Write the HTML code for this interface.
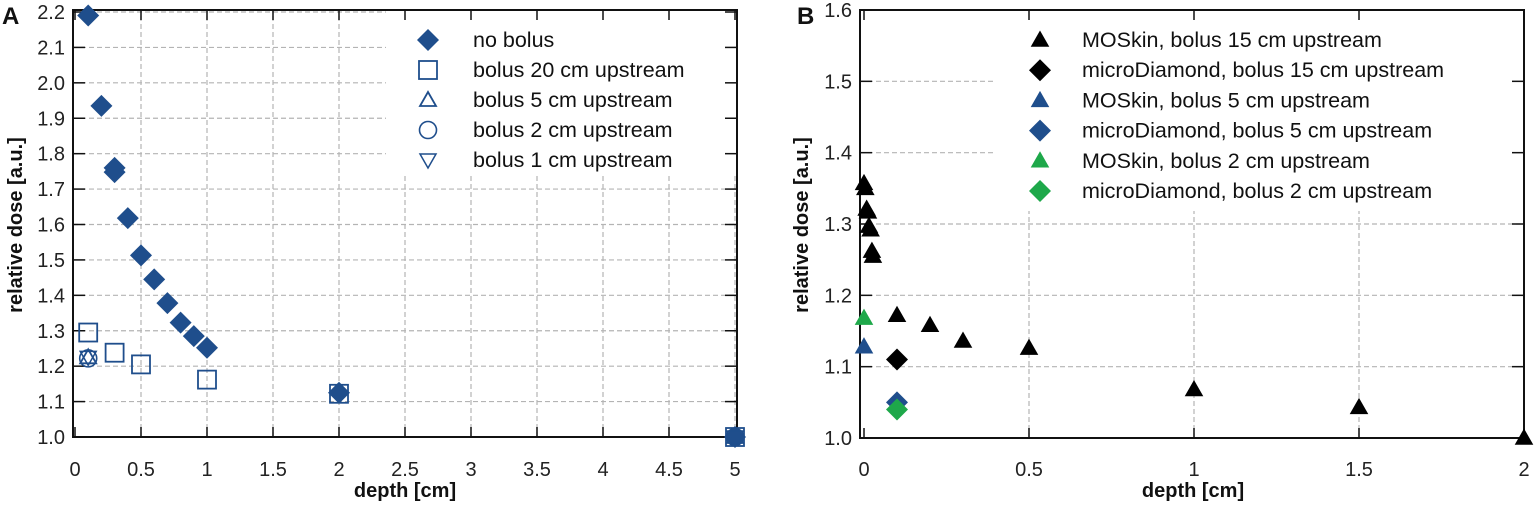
<!DOCTYPE html>
<html><head><meta charset="utf-8"><style>
body{margin:0;background:#fff}
svg{display:block;font-family:"Liberation Sans",sans-serif}
.g{stroke:#b4b4b4;stroke-width:1.2;stroke-dasharray:5,3}
.t{font-size:20px;fill:#222}
.lt{font-size:21.5px;fill:#111}
.ax{font-size:20px;font-weight:bold;fill:#111}
</style></head><body>
<svg id="c" width="1535" height="505"></svg>
<script>
const noBolusX=[0.1,0.2,0.3,0.3,0.4,0.5,0.6,0.7,0.8,0.9,1.0,2,5];
const noBolusY=[2.19,1.935,1.76,1.748,1.618,1.513,1.445,1.378,1.323,1.285,1.252,1.125,1.0];
const b20X=[0.1,0.3,0.5,1.0,2,5];
const b20Y=[1.295,1.238,1.205,1.162,1.122,1.0];
const b5X=[0.1,5], b5Y=[1.225,1.0];
const b2X=[0.1,5], b2Y=[1.222,1.0];
const b1X=[0.1,5], b1Y=[1.225,1.0];
const leftXTicks=[0,0.5,1,1.5,2,2.5,3,3.5,4,4.5,5];
const leftYTicks=[1.0,1.1,1.2,1.3,1.4,1.5,1.6,1.7,1.8,1.9,2.0,2.1,2.2];

const mos15X=[0,0.004,0.008,0.012,0.015,0.02,0.024,0.027,0.1,0.2,0.3,0.5,1,1.5,2];
const mos15Y=[1.357,1.35,1.321,1.317,1.297,1.292,1.262,1.255,1.172,1.158,1.136,1.126,1.068,1.043,1.0];
const md15X=[0.1], md15Y=[1.11];
const mos5X=[0], mos5Y=[1.128];
const md5X=[0.1], md5Y=[1.05];
const mos2X=[0], mos2Y=[1.168];
const md2X=[0.1], md2Y=[1.04];
const rightXTicks=[0,0.5,1,1.5,2];
const rightYTicks=[1.0,1.1,1.2,1.3,1.4,1.5,1.6];

const svg=document.getElementById('c');
const NS='http://www.w3.org/2000/svg';
function el(tag,attrs,parent){const e=document.createElementNS(NS,tag);for(const k in attrs)e.setAttribute(k,attrs[k]);(parent||svg).appendChild(e);return e;}
const BLUE='#1f4e8c', GREEN='#1ea84a';

function marker(g,type,x,y,col,filled){
  let e;
  const f=filled?col:'#fff', sw=filled?0:1.8;
  if(type==='diamond'){e=el('polygon',{points:`${x},${y-11} ${x+11},${y} ${x},${y+11} ${x-11},${y}`,fill:f,stroke:col,'stroke-width':sw},g);}
  else if(type==='square'){e=el('rect',{x:x-9,y:y-9,width:18,height:18,fill:filled?col:'none',stroke:col,'stroke-width':1.8},g);}
  else if(type==='tri'){e=el('polygon',{points:`${x},${y-8} ${x+8},${y+6} ${x-8},${y+6}`,fill:filled?col:'none',stroke:col,'stroke-width':sw||1.5},g);}
  else if(type==='tridown'){e=el('polygon',{points:`${x},${y+8} ${x+8},${y-6} ${x-8},${y-6}`,fill:'none',stroke:col,'stroke-width':1.5},g);}
  else if(type==='circle'){e=el('circle',{cx:x,cy:y,r:8.5,fill:'none',stroke:col,'stroke-width':1.6},g);}
  return e;
}

function panel(o){
  const X=v=>o.x0+(v-o.xmin)/(o.xmax-o.xmin)*(o.x1-o.x0);
  const Y=v=>o.y0-(v-o.ymin)/(o.ymax-o.ymin)*(o.y0-o.y1);
  const g=el('g',{});
  
  
  o.xt.forEach(v=>{if(v===o.xmin)return;const l=el('line',{x1:X(v),x2:X(v),y1:o.y0,y2:o.top,class:'g'},g);});
  o.yt.forEach(v=>{if(v===o.ymin)return;const l=el('line',{x1:o.ax,x2:o.right,y1:Y(v),y2:Y(v),class:'g'},g);});
  const lb=el('rect',{x:o.leg.x,y:o.top+1,width:o.right-o.leg.x-1,height:o.leg.h,fill:'#fff'},g);
  
  const fr=el('rect',{x:o.ax,y:o.top,width:o.right-o.ax,height:o.y0-o.top,fill:'none',stroke:'#111','stroke-width':2},g);
  
  o.xt.forEach(v=>{
    el('line',{x1:X(v),x2:X(v),y1:o.y0,y2:o.y0-10,stroke:'#111','stroke-width':1.5},g);
    el('line',{x1:X(v),x2:X(v),y1:o.top,y2:o.top+10,stroke:'#111','stroke-width':1.5},g);
    const t=el('text',{x:X(v),y:476,'text-anchor':'middle',class:'t'},g);t.textContent=String(v);
    
  });
  o.yt.forEach(v=>{
    el('line',{x1:o.ax,x2:o.ax+12,y1:Y(v),y2:Y(v),stroke:'#111','stroke-width':1.5},g);
    el('line',{x1:o.right,x2:o.right-12,y1:Y(v),y2:Y(v),stroke:'#111','stroke-width':1.5},g);
    const t=el('text',{x:o.ax-8,y:Y(v)+7,'text-anchor':'end',class:'t'},g);t.textContent=v.toFixed(1);
    
  });
  const xt=el('text',{x:o.xtx,y:497,'text-anchor':'middle',class:'ax'},g);xt.textContent='depth [cm]';
  
  const yt=el('text',{x:0,y:0,'text-anchor':'middle',class:'ax',transform:`translate(${o.ytx},${o.yty}) rotate(-90)`},g);yt.textContent='relative dose [a.u.]';
  
  const pl=el('text',{x:o.lx,y:24,style:'font-size:24px;font-weight:bold;fill:#111'},g);pl.textContent=o.label;
  
  o.series.forEach((s,i)=>{
    const sg=el('g',{},g);
    
    
    s.xs.forEach((xv,j)=>{const m=marker(sg,s.type,X(xv),Y(s.ys[j]),s.col,s.filled);
      });
    const ly=o.leg.fy+i*o.leg.dy;
    const le=el('g',{},g);
    
    
    marker(le,s.type,o.leg.mx,ly,s.col,s.filled);
    const t=el('text',{x:o.leg.tx,y:ly+7,class:'lt'},le);t.textContent=s.label;
  });
}

panel({name:'panel-a',label:'A',lx:2,x0:75,x1:735,xmin:0,xmax:5,y0:437,y1:12,ymin:1.0,ymax:2.2,ax:73,right:737,top:10,ytx:22,yty:225,xtx:405,
  xt:leftXTicks,yt:leftYTicks,
  leg:{x:386,h:165,fy:40,dy:30,mx:428,tx:473},
  series:[
    {key:'no-bolus',label:'no bolus',type:'diamond',col:BLUE,filled:true,xs:noBolusX,ys:noBolusY},
    {key:'bolus-20',label:'bolus 20 cm upstream',type:'square',col:BLUE,filled:false,xs:b20X,ys:b20Y},
    {key:'bolus-5',label:'bolus 5 cm upstream',type:'tri',col:BLUE,filled:false,xs:b5X,ys:b5Y},
    {key:'bolus-2',label:'bolus 2 cm upstream',type:'circle',col:BLUE,filled:false,xs:b2X,ys:b2Y},
    {key:'bolus-1',label:'bolus 1 cm upstream',type:'tridown',col:BLUE,filled:false,xs:b1X,ys:b1Y}
  ]});

panel({name:'panel-b',label:'B',lx:797,x0:864,x1:1524,xmin:0,xmax:2,y0:438,y1:10,ymin:1.0,ymax:1.6,ax:860,right:1524,top:10,ytx:808,yty:225,xtx:1193,
  xt:rightXTicks,yt:rightYTicks,
  leg:{x:996,h:200,fy:40,dy:30.2,mx:1040,tx:1082},
  series:[
    {key:'moskin-15',label:'MOSkin, bolus 15 cm upstream',type:'tri',col:'#000',filled:true,xs:mos15X,ys:mos15Y},
    {key:'microdiamond-15',label:'microDiamond, bolus 15 cm upstream',type:'diamond',col:'#000',filled:true,xs:md15X,ys:md15Y},
    {key:'moskin-5',label:'MOSkin, bolus 5 cm upstream',type:'tri',col:BLUE,filled:true,xs:mos5X,ys:mos5Y},
    {key:'microdiamond-5',label:'microDiamond, bolus 5 cm upstream',type:'diamond',col:BLUE,filled:true,xs:md5X,ys:md5Y},
    {key:'moskin-2',label:'MOSkin, bolus 2 cm upstream',type:'tri',col:GREEN,filled:true,xs:mos2X,ys:mos2Y},
    {key:'microdiamond-2',label:'microDiamond, bolus 2 cm upstream',type:'diamond',col:GREEN,filled:true,xs:md2X,ys:md2Y}
  ]});
</script>
</body></html>
